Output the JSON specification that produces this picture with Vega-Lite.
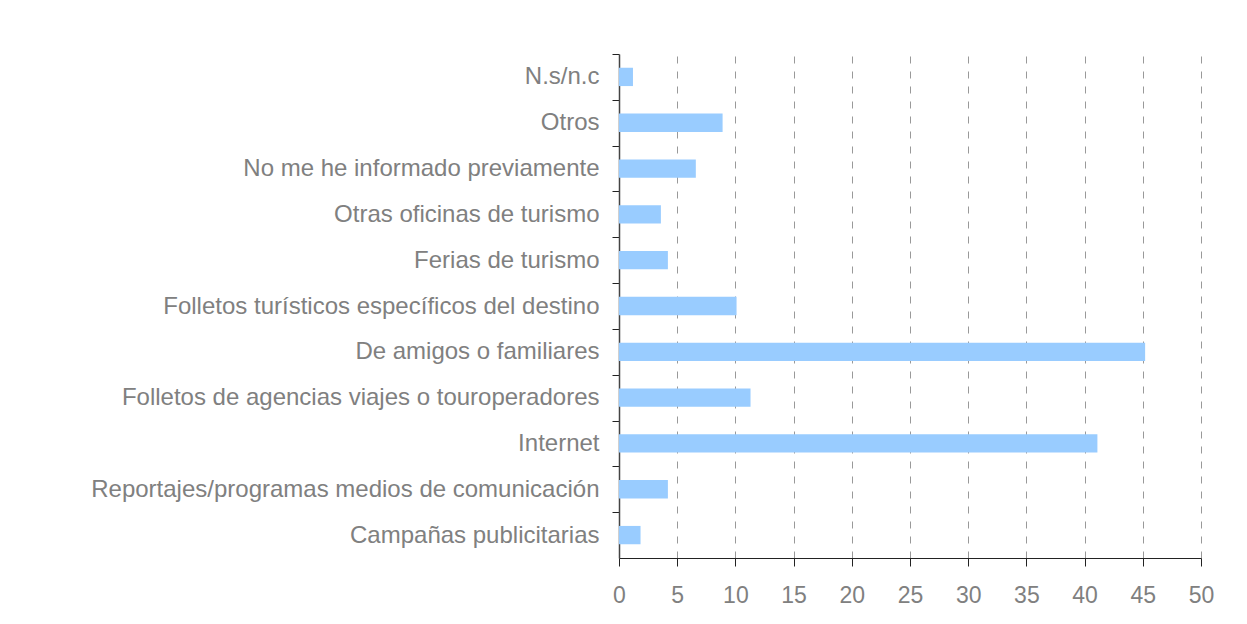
{
  "$schema": "https://vega.github.io/schema/vega-lite/v6.json",
  "width": 582,
  "height": 504,
  "autosize": {"type": "none"},
  "padding": {"left": 619, "top": 54, "right": 46, "bottom": 66},
  "background": "white",
  "config": {
    "view": {"stroke": null},
    "font": "Liberation Sans"
  },
  "data": {
    "values": [
      {"categoria": "N.s/n.c", "valor": 1.2},
      {"categoria": "Otros", "valor": 8.9},
      {"categoria": "No me he informado previamente", "valor": 6.6},
      {"categoria": "Otras oficinas de turismo", "valor": 3.6},
      {"categoria": "Ferias de turismo", "valor": 4.2},
      {"categoria": "Folletos turísticos específicos del destino", "valor": 10.1},
      {"categoria": "De amigos o familiares", "valor": 45.2},
      {"categoria": "Folletos de agencias viajes o touroperadores", "valor": 11.3},
      {"categoria": "Internet", "valor": 41.1},
      {"categoria": "Reportajes/programas medios de comunicación", "valor": 4.2},
      {"categoria": "Campañas publicitarias", "valor": 1.85}
    ]
  },
  "mark": {"type": "bar", "color": "#99ccff"},
  "encoding": {
    "y": {
      "field": "categoria",
      "type": "nominal",
      "sort": null,
      "scale": {"paddingInner": 0.6, "paddingOuter": 0.3},
      "axis": {
        "title": null,
        "tickOffset": -22.9,
        "labelOffset": 22.9,
        "domainColor": "#444444",
        "domainWidth": 1.5,
        "tickColor": "#222222",
        "tickSize": 7,
        "labelPadding": 13,
        "labelFontSize": 24,
        "labelColor": "#808080",
        "labelLimit": 700,
        "grid": false
      }
    },
    "x": {
      "field": "valor",
      "type": "quantitative",
      "scale": {"domain": [0, 50], "nice": false},
      "axis": {
        "title": null,
        "values": [0, 5, 10, 15, 20, 25, 30, 35, 40, 45, 50],
        "grid": true,
        "gridColor": "#999999",
        "gridDash": [7, 8],
        "gridWidth": 1,
        "domainColor": "#222222",
        "tickColor": "#222222",
        "tickSize": 8,
        "labelFlush": false,
        "labelPadding": 18,
        "labelFontSize": 23,
        "labelColor": "#808080"
      }
    }
  }
}
